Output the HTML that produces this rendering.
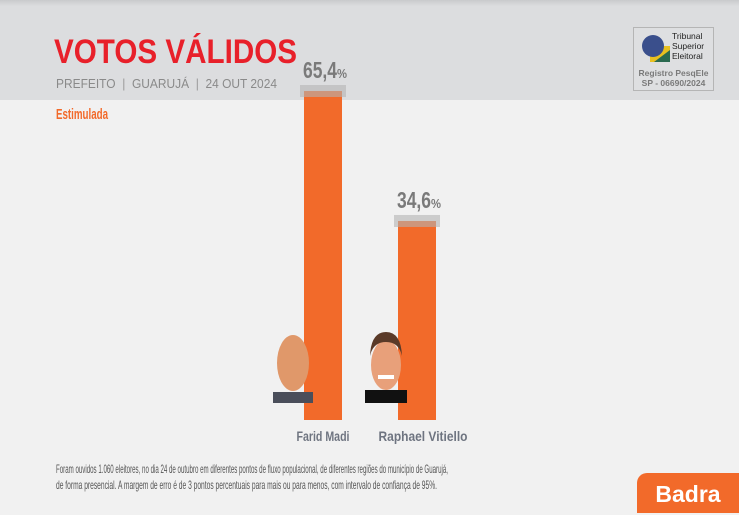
<!DOCTYPE html>
<html><head><meta charset="utf-8"><style>
body{margin:0;width:739px;height:513px;overflow:hidden;background:#f1f1f1;font-family:"Liberation Sans",sans-serif;position:relative}
.abs{position:absolute}
.fit{white-space:nowrap;transform-origin:0 0}
</style></head><body>
<div class="abs" style="left:0;top:0;width:739px;height:100px;background:linear-gradient(#c9cacc 0,#dcdddf 6px,#dcdddf 100%)"></div>
<div class="abs fit" data-fit="243" style="left:54px;top:33px;font-size:34px;font-weight:bold;color:#e8202a">VOTOS VÁLIDOS</div>
<div class="abs fit" data-fit="221" style="left:56px;top:76px;font-size:13px;color:#8a8a8a">PREFEITO &nbsp;<span style="color:#999">|</span>&nbsp; GUARUJÁ &nbsp;<span style="color:#999">|</span>&nbsp; 24 OUT 2024</div>
<div class="abs" style="left:633px;top:27px;width:79px;height:62px;border:1px solid #b5b5b5;background:#dedfe1">
 <svg class="abs" style="left:6px;top:4px" width="32" height="32"><rect x="10" y="14" width="20" height="16" fill="#e8c020"/><polygon points="14,30 30,18 30,30" fill="#2a6a50"/><circle cx="13" cy="14" r="11" fill="#3a4f8c"/></svg>
 <div class="abs" style="left:38px;top:3px;font-size:8.5px;line-height:10px;color:#222">Tribunal<br>Superior<br>Eleitoral</div>
 <div class="abs" style="left:3px;top:40px;width:73px;text-align:center;font-size:8.5px;line-height:10px;color:#7a7a7a;font-weight:bold">Registro PesqEle<br>SP - 06690/2024</div>
</div>
<div class="abs fit" data-fit="52" style="left:56px;top:106px;font-size:15px;font-weight:bold;color:#f26a2a">Estimulada</div>
<svg id="chart" class="abs" style="left:0;top:0" width="739" height="513"></svg>
<div class="abs fit" data-fit="392" style="left:56px;top:462px;font-size:12px;color:#555">Foram ouvidos 1.060 eleitores, no dia 24 de outubro em diferentes pontos de fluxo populacional, de diferentes regiões do município de Guarujá,</div>
<div class="abs fit" data-fit="381" style="left:56px;top:478px;font-size:12px;color:#555">de forma presencial. A margem de erro é de 3 pontos percentuais para mais ou para menos, com intervalo de confiança de 95%.</div>
<div class="abs" style="left:637px;top:473px;width:102px;height:40px;background:#f26a2a;border-radius:10px 0 0 0;color:#fff;font-weight:bold;font-size:23px;line-height:42px;text-align:center">Badra</div>
<script>
const candidates=["Farid Madi","Raphael Vitiello"];
const values=[65.4,34.6];
const labels=["65,4","34,6"];
const nameWidths=[53,89];
const svg=document.getElementById('chart');
const NS="http://www.w3.org/2000/svg";
const base=420;
function yScale(v){return base-(53+4.22*v);}
function xScale(i){return 304+i*94;}
function mk(t,a){const e=document.createElementNS(NS,t);for(const k in a)e.setAttribute(k,a[k]);svg.appendChild(e);return e;}
values.forEach((v,i)=>{
 const x=xScale(i),y=yScale(v);
 let b=mk('rect',{x:x,y:y,width:38,height:base-y,fill:'#f26a2a'});
 
 
 let c=mk('rect',{x:x-4,y:y-6,width:46,height:12,fill:'#b4b4b4','fill-opacity':0.6});
 
 
 let t=mk('text',{x:x-1,y:y-13,'font-family':'Liberation Sans, sans-serif','font-weight':'bold','font-size':23,fill:'#7a7a7a'});
 t.innerHTML='<tspan textLength="34" lengthAdjust="spacingAndGlyphs">'+labels[i]+'</tspan><tspan font-size="13" textLength="10" lengthAdjust="spacingAndGlyphs">%</tspan>';
 
 
 const fx=x-6;
 let g=document.createElementNS(NS,'g');svg.appendChild(g);
 
 
 g.innerHTML=i===0?
 `<rect x="${fx-25}" y="392" width="40" height="11" fill="#4a4e5a"/><ellipse cx="${fx-5}" cy="363" rx="16" ry="28" fill="#e0986a"/>`:
 `<rect x="${fx-27}" y="390" width="42" height="13" fill="#111"/><ellipse cx="${fx-6}" cy="365" rx="15" ry="25" fill="#e8a07a"/><path d="M${fx-22} 356 q1-24 16-24 q15 0 16 24 q-3-14 -16-14 q-13 0 -16 14z" fill="#5a3a28"/><rect x="${fx-14}" y="375" width="16" height="4" fill="#fff"/>`;
 const w=nameWidths[i];
 let n=mk('text',{x:x+19-w/2+(i?6:0),y:441,textLength:w,lengthAdjust:'spacingAndGlyphs','font-family':'Liberation Sans, sans-serif','font-weight':'bold','font-size':14,fill:'#6e7480'});
 n.textContent=candidates[i];
 
 
});
document.querySelectorAll('[data-fit]').forEach(el=>{
 const w=el.getBoundingClientRect().width;
 el.style.transform='scaleX('+(parseFloat(el.dataset.fit)/w)+')';
});
</script>
</body></html>
